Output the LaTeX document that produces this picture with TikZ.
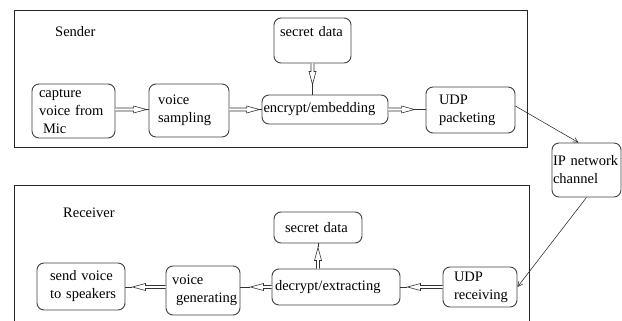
\documentclass[tikz,border=0pt]{standalone}
\usepackage{fontspec}
\setmainfont{Liberation Serif}
\usetikzlibrary{calc,arrows.meta}

\tikzset{
  box/.style={draw=black!75, line width=0.9pt, rounded corners=7pt, align=left,
    inner ysep=0pt, font=\fontsize{14.5}{18}\selectfont, anchor=center},
  frame/.style={draw=black!85, line width=0.8pt},
  title/.style={anchor=base west, inner sep=0pt, font=\fontsize{14.5}{18}\selectfont},
  linkline/.style={draw=black!80, line width=0.6pt},
  netlink/.style={draw=black!85, line width=0.55pt, -{Straight Barb[length=5pt,width=5pt]}},
}

% hollow block arrow: #1 start, #2 target, #3 gap between tip and target
\newcommand\hollowlink[3]{%
  \coordinate (hl-s) at (#1);
  \coordinate (hl-e) at (#2);
  \coordinate (hl-t) at ($(hl-e)!#3!(hl-s)$);
  \coordinate (hl-b) at ($(hl-t)!13pt!(hl-s)$);
  \draw[linkline] (hl-t) -- (hl-e);
  \filldraw[linkline, fill=white]
    ($(hl-s)!1.5pt!90:(hl-e)$) -- ($(hl-b)!1.5pt!90:(hl-t)$) --
    ($(hl-b)!3.5pt!90:(hl-t)$) -- (hl-t) -- ($(hl-b)!3.5pt!-90:(hl-t)$) --
    ($(hl-b)!1.5pt!-90:(hl-t)$) -- ($(hl-s)!1.5pt!-90:(hl-e)$);
}
% one unbreakable line of box text
\newcommand\boxline[1]{\mbox{#1}}

\begin{document}
\begin{tikzpicture}[x=1pt, y=-1pt]
  \useasboundingbox (0,0) rectangle (622,321);
  \clip (0,0) rectangle (622,321);

  % sender and receiver frames
  \draw[frame] (14,10) rectangle (527,147);
  \draw[frame] (14,185) rectangle (529,340);
  \node[title] (sendertitle) at (55,37) {Sender};
  \node[title] (receivertitle) at (63,217) {Receiver};

  % sender blocks
  \node[box, inner xsep=7pt, text width=69pt, minimum height=54pt] (cap) at (73.5,111)
    {\boxline{capture}\\\boxline{voice from}\\\boxline{\hspace*{4pt}Mic}};
  \node[box, inner xsep=9pt, text width=62pt, minimum height=53pt] (samp) at (189,110.5)
    {\boxline{voice}\\\boxline{sampling}};
  \node[box, inner xsep=1.5pt, text width=123pt, minimum height=29pt] (enc) at (325,109.5)
    {\boxline{encrypt/embedding}};
  \node[box, inner xsep=6pt, text width=65pt, minimum height=45pt] (sec1) at (312.5,40.5)
    {\boxline{secret data}\\\mbox{}};
  \node[box, inner xsep=13pt, text width=63pt, minimum height=46pt] (udp1) at (470.5,110)
    {\boxline{UDP}\\\boxline{packeting}};

  % network
  \node[box, inner xsep=1pt, text width=67pt, minimum height=54pt] (ip) at (586.5,170)
    {\boxline{IP network}\\\boxline{channel}};

  % receiver blocks
  \node[box, inner xsep=11pt, text width=66pt, minimum height=31pt] (sec2) at (318,227.5)
    {\boxline{secret data}};
  \node[box, inner xsep=3pt, text width=122pt, minimum height=36pt] (dec) at (336,287)
    {\boxline{decrypt/extracting}};
  \node[box, inner xsep=11pt, text width=52pt, minimum height=40pt] (udp2) at (480,287)
    {\boxline{UDP}\\\boxline{receiving}};
  \node[box, inner xsep=6pt, text width=62pt, minimum height=49pt] (gen) at (203,290.5)
    {\boxline{voice}\\\boxline{\hspace*{4pt}generating}};
  \node[box, inner xsep=13pt, text width=62pt, minimum height=47pt] (send) at (81,286.5)
    {\boxline{send voice}\\\boxline{to speakers}};

  % sender flow
  \hollowlink{cap.east |- enc.west}{samp.west |- enc.west}{2pt}
  \hollowlink{samp.east |- enc.west}{enc.west}{2pt}
  \hollowlink{sec1.south}{sec1.south |- enc.north}{10pt}
  \hollowlink{enc.east}{udp1.west |- enc.east}{11pt}

  % receiver flow
  \hollowlink{udp2.west |- dec.east}{dec.east}{7pt}
  \hollowlink{dec.west}{gen.east |- dec.west}{10pt}
  \hollowlink{gen.west |- dec.west}{send.east |- dec.west}{7pt}
  \hollowlink{sec2.south |- dec.north}{sec2.south}{4pt}

  % network links
  \draw[netlink] (udp1.5) -- ([xshift=-8pt]ip.north);
  \draw[netlink] (ip.south) -- (udp2.east);
\end{tikzpicture}
\end{document}
